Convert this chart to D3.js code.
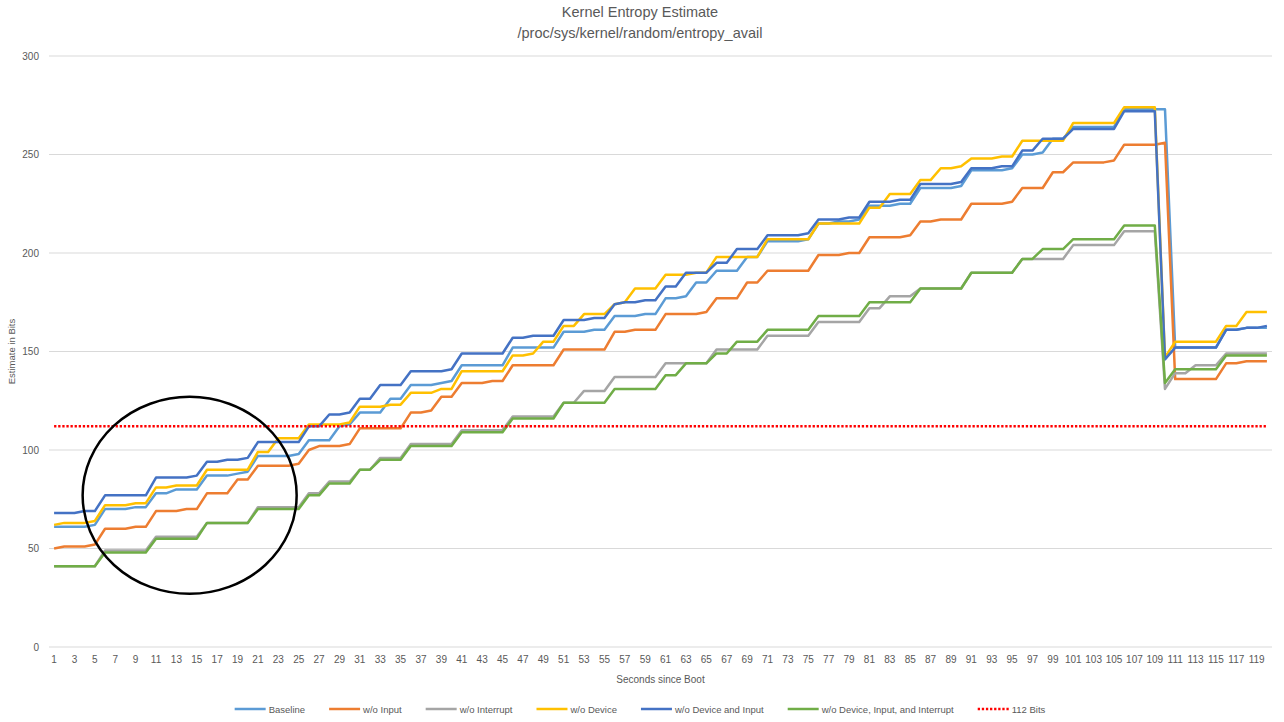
<!DOCTYPE html>
<html>
<head>
<meta charset="utf-8">
<script src="https://cdn.jsdelivr.net/npm/d3@7/dist/d3.min.js"></script>
<style>
body { margin: 0; background: #fff; }
text { font-family: "Liberation Sans", Arial, sans-serif; fill: #595959; }
</style>
</head>
<body>
<div id="chart"></div>
<script>
// seconds since boot (categories 1..120)
var seconds = d3.range(1, 121);
var xTickLabels = seconds.filter(function(s) { return s % 2 === 1; });
var yTickLabels = [0, 50, 100, 150, 200, 250, 300];

var baseline = [
    61,61,61,61,62,70,70,70,71,71, 78,78,80,80,80,87,87,87,88,89,
    97,97,97,97,98,105,105,105,112,113, 119,119,119,126,126,133,133,133,134,135,
    143,143,143,143,143,152,152,152,152,152, 160,160,160,161,161,168,168,168,169,169,
    177,177,178,185,185,191,191,191,198,198, 206,206,206,206,207,215,215,216,216,217,
    224,224,224,225,225,233,233,233,233,234, 242,242,242,242,243,250,250,251,258,258,
    264,264,264,264,264,273,273,273,273,273, 152,152,152,152,152,161,161,162,162,162
];
var woInput = [
    50,51,51,51,52,60,60,60,61,61, 69,69,69,70,70,78,78,78,85,85,
    92,92,92,92,93,100,102,102,102,103, 111,111,111,111,111,119,119,120,127,127,
    134,134,134,135,135,143,143,143,143,143, 151,151,151,151,151,160,160,161,161,161,
    169,169,169,169,170,177,177,177,185,185, 191,191,191,191,191,199,199,199,200,200,
    208,208,208,208,209,216,216,217,217,217, 225,225,225,225,226,233,233,233,241,241,
    246,246,246,246,247,255,255,255,255,256, 136,136,136,136,136,144,144,145,145,145
];
var woInterrupt = [
    41,41,41,41,41,49,49,49,49,49, 56,56,56,56,56,63,63,63,63,63,
    71,71,71,71,71,78,78,84,84,84, 90,90,96,96,96,103,103,103,103,103,
    110,110,110,110,110,117,117,117,117,117, 124,124,130,130,130,137,137,137,137,137,
    144,144,144,144,144,151,151,151,151,151, 158,158,158,158,158,165,165,165,165,165,
    172,172,178,178,178,182,182,182,182,182, 190,190,190,190,190,197,197,197,197,197,
    204,204,204,204,204,211,211,211,211,131, 139,139,143,143,143,149,149,149,149,149
];
var woDevice = [
    62,63,63,63,64,72,72,72,73,73, 81,81,82,82,82,90,90,90,90,90,
    99,99,106,106,106,113,113,113,113,114, 122,122,122,123,123,129,129,129,131,131,
    140,140,140,140,140,148,148,149,155,155, 163,163,169,169,169,174,175,182,182,182,
    189,189,189,190,190,198,198,198,198,198, 207,207,207,207,207,215,215,215,215,215,
    223,223,230,230,230,237,237,243,243,244, 248,248,248,249,249,257,257,257,257,257,
    266,266,266,266,266,274,274,274,274,147, 155,155,155,155,155,163,163,170,170,170
];
var woDeviceInput = [
    68,68,68,69,69,77,77,77,77,77, 86,86,86,86,87,94,94,95,95,96,
    104,104,104,104,104,112,112,118,118,119, 126,126,133,133,133,140,140,140,140,141,
    149,149,149,149,149,157,157,158,158,158, 166,166,166,167,167,174,175,175,176,176,
    183,183,190,190,190,195,195,202,202,202, 209,209,209,209,210,217,217,217,218,218,
    226,226,226,227,227,235,235,235,235,236, 243,243,243,244,244,252,252,258,258,258,
    263,263,263,263,263,272,272,272,272,146, 152,152,152,152,152,161,161,162,162,163
];
var woAll = [
    41,41,41,41,41,48,48,48,48,48, 55,55,55,55,55,63,63,63,63,63,
    70,70,70,70,70,77,77,83,83,83, 90,90,95,95,95,102,102,102,102,102,
    109,109,109,109,109,116,116,116,116,116, 124,124,124,124,124,131,131,131,131,131,
    138,138,144,144,144,149,149,155,155,155, 161,161,161,161,161,168,168,168,168,168,
    175,175,175,175,175,182,182,182,182,182, 190,190,190,190,190,197,197,202,202,202,
    207,207,207,207,207,214,214,214,214,134, 141,141,141,141,141,148,148,148,148,148
];
var threshold = 112;

var seriesNames = ["Baseline", "w/o Input", "w/o Interrupt", "w/o Device",
                   "w/o Device and Input", "w/o Device, Input, and Interrupt"];
var seriesValues = [baseline, woInput, woInterrupt, woDevice, woDeviceInput, woAll];
var seriesColors = ["#5B9BD5", "#ED7D31", "#A5A5A5", "#FFC000", "#4472C4", "#70AD47"];

// circled region annotation (seconds / bits)
var circleNote = {sec: 14.3, bits: 77, rSec: 10.5, rBits: 50};

var width = 1284, height = 722;
var margin = {left: 49, right: 12, top: 56, bottom: 75};

var svg = d3.select("#chart")
    .append("svg")
    .attr("width", width)
    .attr("height", height);

var x = d3.scaleBand()
    .domain(seconds)
    .range([margin.left, width - margin.right])
    .padding(0);

var y = d3.scaleLinear()
    .domain([0, 300])
    .range([height - margin.bottom, margin.top]);

function xc(s) { return x(s) + x.bandwidth() / 2; }

// gridlines
svg.append("g")
    .selectAll("line")
    .data(yTickLabels)
    .enter()
    .append("line")
    .attr("x1", margin.left)
    .attr("x2", width - margin.right)
    .attr("y1", function(d) { return y(d); })
    .attr("y2", function(d) { return y(d); })
    .attr("stroke", "#D9D9D9")
    .attr("stroke-width", 1);

// y axis labels
var yAxis = svg.append("g")
    .attr("transform", "translate(" + (margin.left - 10) + ",0)")
    .call(d3.axisLeft(y).tickValues(yTickLabels).tickSize(0).tickPadding(0));
yAxis.select(".domain").remove();
yAxis.selectAll("text")
    .attr("font-size", "10px")
    .attr("font-family", null)
    .style("fill", "#595959");

// x axis labels
var xAxis = svg.append("g")
    .attr("transform", "translate(0," + (height - margin.bottom + 9) + ")")
    .call(d3.axisBottom(x).tickValues(xTickLabels).tickSize(0).tickPadding(0));
xAxis.select(".domain").remove();
xAxis.selectAll("text")
    .attr("font-size", "10px")
    .attr("font-family", null)
    .style("fill", "#595959");

// titles
svg.append("text")
    .attr("x", 640)
    .attr("y", 17)
    .attr("text-anchor", "middle")
    .attr("font-size", "14.5px")
    .text("Kernel Entropy Estimate");
svg.append("text")
    .attr("x", 640)
    .attr("y", 38)
    .attr("text-anchor", "middle")
    .attr("font-size", "14.5px")
    .text("/proc/sys/kernel/random/entropy_avail");

svg.append("text")
    .attr("x", (margin.left + width - margin.right) / 2)
    .attr("y", 683)
    .attr("text-anchor", "middle")
    .attr("font-size", "10px")
    .text("Seconds since Boot");

svg.append("text")
    .attr("transform", "translate(15," + y(150) + ") rotate(-90)")
    .attr("text-anchor", "middle")
    .attr("font-size", "9.5px")
    .text("Estimate in Bits");

// series lines
var line = d3.line()
    .x(function(d, i) { return xc(seconds[i]); })
    .y(function(d) { return y(d); });

svg.append("g")
    .selectAll("path")
    .data(seriesValues)
    .enter()
    .append("path")
    .attr("d", function(d) { return line(d); })
    .attr("fill", "none")
    .attr("stroke", function(d, i) { return seriesColors[i]; })
    .attr("stroke-width", 2.5)
    .attr("stroke-linejoin", "round");

// 112 bits reference line
svg.append("line")
    .attr("x1", xc(seconds[0]))
    .attr("x2", xc(seconds[seconds.length - 1]))
    .attr("y1", y(threshold))
    .attr("y2", y(threshold))
    .attr("stroke", "#FF0000")
    .attr("stroke-width", 2.5)
    .attr("stroke-dasharray", "2.3,1.8");

// annotation ellipse
svg.append("ellipse")
    .attr("cx", xc(14) + (circleNote.sec - 14) * x.bandwidth())
    .attr("cy", y(circleNote.bits))
    .attr("rx", circleNote.rSec * x.bandwidth())
    .attr("ry", y(0) - y(circleNote.rBits))
    .attr("fill", "none")
    .attr("stroke", "#000")
    .attr("stroke-width", 2.5);

// legend
var legendItems = seriesNames.map(function(n, i) {
    return {name: n, color: seriesColors[i], dotted: false};
});
legendItems.push({name: "112 Bits", color: "#FF0000", dotted: true});

var legend = svg.append("g");
var lx = 0;
legendItems.forEach(function(item) {
    var g = legend.append("g").attr("transform", "translate(" + lx + ",0)");
    g.append("line")
        .attr("x1", 0).attr("x2", 31)
        .attr("y1", 0).attr("y2", 0)
        .attr("stroke", item.color)
        .attr("stroke-width", 2.5)
        .attr("stroke-dasharray", item.dotted ? "2.3,1.8" : null);
    var t = g.append("text")
        .attr("x", 34)
        .attr("y", 3.5)
        .attr("font-size", "9.5px")
        .text(item.name);
    lx += 34 + t.node().getComputedTextLength() + 24;
});
lx -= 24;
legend.attr("transform", "translate(" + (640 - lx / 2) + ",709)");
</script>
</body>
</html>
